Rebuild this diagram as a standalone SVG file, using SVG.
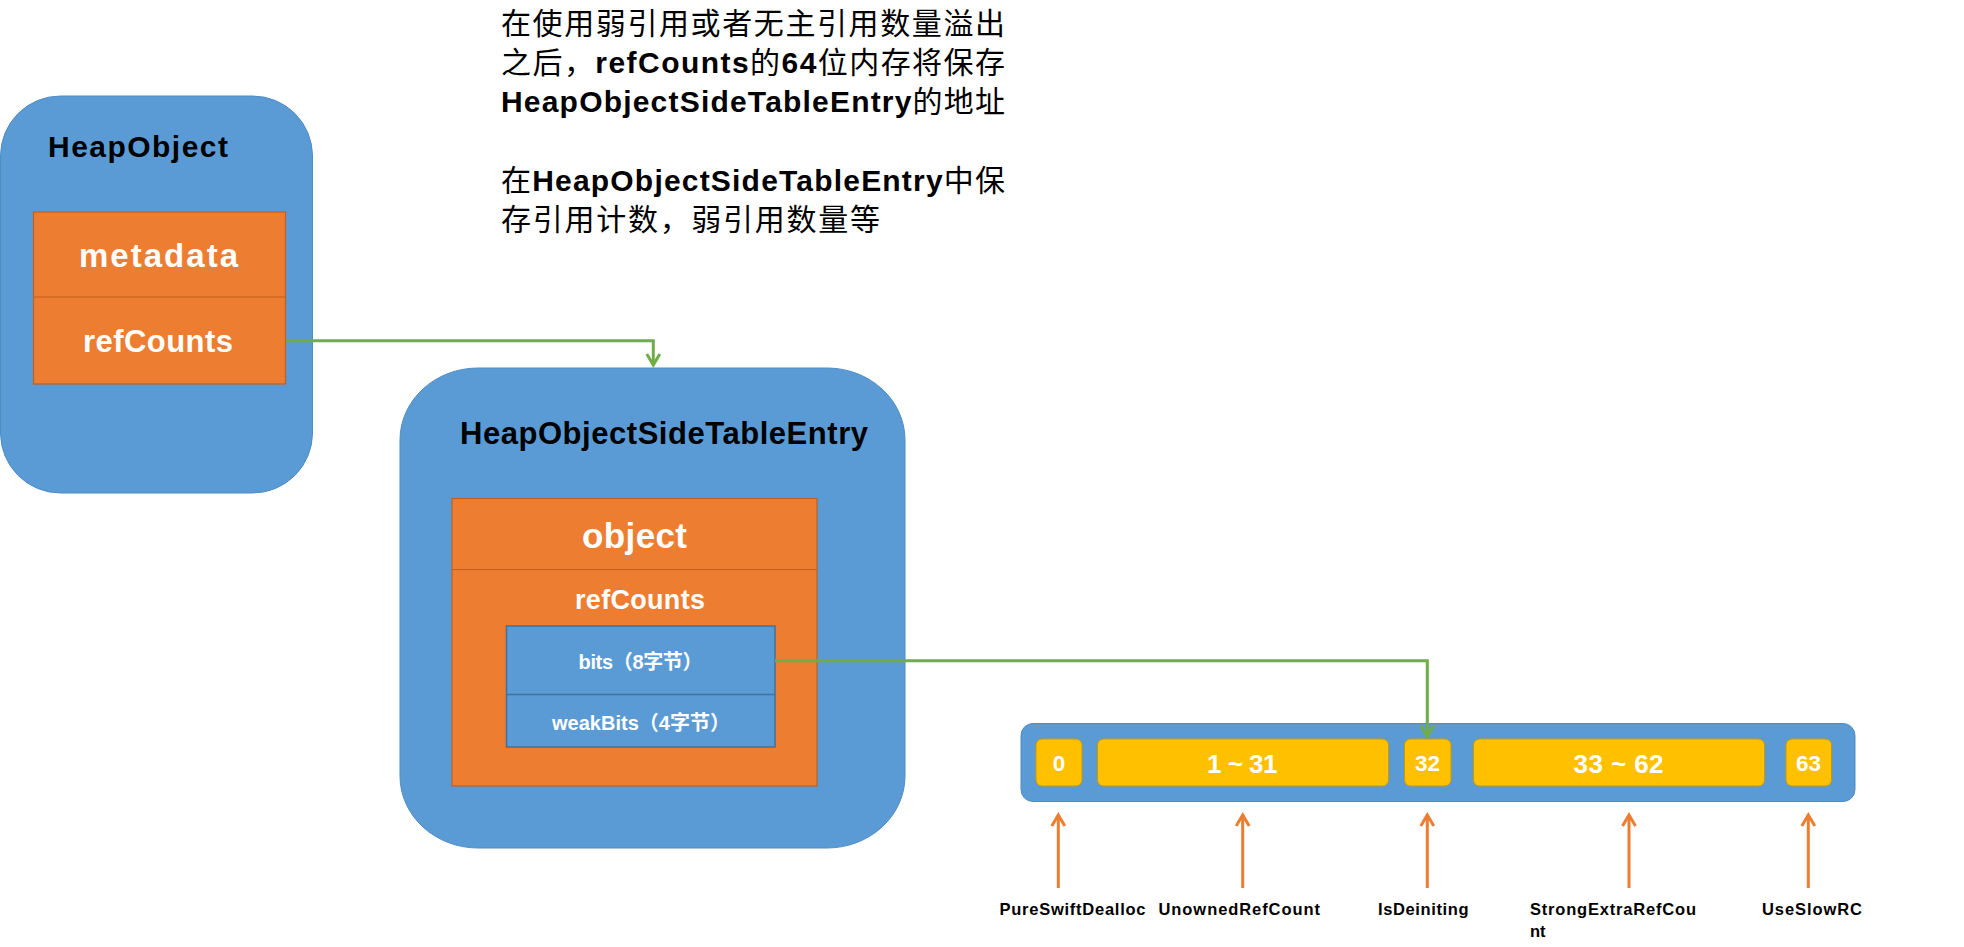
<svg xmlns="http://www.w3.org/2000/svg" width="1964" height="947" viewBox="0 0 1964 947">
<style>
.blue{fill:#5B9BD5;stroke:#4F8CC4;stroke-width:1}
.orange{fill:#ED7D31;stroke:#C0601F;stroke-width:1.2}
.inner{fill:#5B9BD5;stroke:#41719C;stroke-width:1.5}
.cell{fill:#FFC000;stroke:#C99A00;stroke-width:1}
.sep{stroke:#C0601F;stroke-width:1.2;fill:none}
.sepb{stroke:#41719C;stroke-width:1.5;fill:none}
.lat{font-family:"Liberation Sans",Arial,sans-serif;font-weight:bold}
.cjk{font-family:"Noto Sans CJK SC","Liberation Sans",sans-serif;font-weight:normal}
.title{font-family:"Liberation Sans",Arial,sans-serif;font-weight:bold;fill:#000}
.wt{font-family:"Liberation Sans","Noto Sans CJK SC",sans-serif;font-weight:bold;fill:#fff}
.cj{font-family:"Noto Sans CJK SC",sans-serif}
.lbl{font-family:"Liberation Sans",Arial,sans-serif;font-weight:bold;fill:#000;font-size:16.5px}
.para{font-size:30px;fill:#000}
.green{fill:none;stroke:#70AD47;stroke-width:3}
.oline{fill:none;stroke:#ED7D31;stroke-width:3}
</style>
<defs>
<marker id="ag" markerUnits="userSpaceOnUse" markerWidth="16" markerHeight="16" refX="13" refY="8" orient="auto" overflow="visible">
<path d="M2,1.5 L13,8 L2,14.5" fill="none" stroke="#70AD47" stroke-width="3" stroke-linejoin="miter"/>
</marker>
<marker id="ao" markerUnits="userSpaceOnUse" markerWidth="16" markerHeight="16" refX="13" refY="8" orient="auto" overflow="visible">
<path d="M2,1.5 L13,8 L2,14.5" fill="none" stroke="#ED7D31" stroke-width="3" stroke-linejoin="miter"/>
</marker>
</defs>

<g id="note">
<text class="para" x="501" y="34" textLength="504" lengthAdjust="spacing"><tspan class="cjk">在使用弱引用或者无主引用数量溢出</tspan></text>
<text class="para" x="501" y="73" textLength="504" lengthAdjust="spacing"><tspan class="cjk">之后，</tspan><tspan class="lat">refCounts</tspan><tspan class="cjk">的</tspan><tspan class="lat">64</tspan><tspan class="cjk">位内存将保存</tspan></text>
<text class="para" x="501" y="112" textLength="504" lengthAdjust="spacing"><tspan class="lat">HeapObjectSideTableEntry</tspan><tspan class="cjk">的地址</tspan></text>
<text class="para" x="501" y="191" textLength="504" lengthAdjust="spacing"><tspan class="cjk">在</tspan><tspan class="lat">HeapObjectSideTableEntry</tspan><tspan class="cjk">中保</tspan></text>
<text class="para" x="501" y="230" textLength="379" lengthAdjust="spacing"><tspan class="cjk">存引用计数，弱引用数量等</tspan></text>
</g>

<g id="heapobject">
<rect class="blue" x="0.5" y="96" width="312" height="397" rx="60" ry="60"/>
<text class="title" x="48" y="157" font-size="30" textLength="180" lengthAdjust="spacing">HeapObject</text>
<rect class="orange" x="33.5" y="212" width="252" height="172"/>
<line class="sep" x1="33.5" y1="297" x2="285.5" y2="297"/>
<text class="wt" x="79" y="267" font-size="33" textLength="159" lengthAdjust="spacing">metadata</text>
<text class="wt" x="83" y="352" font-size="31" textLength="150" lengthAdjust="spacing">refCounts</text>
</g>

<g id="sidetable">
<rect class="blue" x="400" y="368" width="505" height="480" rx="78" ry="72"/>
<text class="title" x="460" y="444" font-size="31" textLength="408" lengthAdjust="spacing">HeapObjectSideTableEntry</text>
<rect class="orange" x="452" y="498.5" width="365" height="287.5"/>
<line class="sep" x1="452" y1="569.5" x2="817" y2="569.5"/>
<text class="wt" x="582" y="547.5" font-size="35" textLength="105" lengthAdjust="spacing">object</text>
<text class="wt" x="575" y="608.5" font-size="27" textLength="130" lengthAdjust="spacing">refCounts</text>
<rect class="inner" x="506.5" y="626" width="268.5" height="121"/>
<line class="sepb" x1="506.5" y1="694.5" x2="775" y2="694.5"/>
<text class="wt" x="578.5" y="668.5" font-size="20" textLength="124" lengthAdjust="spacing">bits<tspan class="cj">（</tspan>8<tspan class="cj">字节）</tspan></text>
<text class="wt" x="552" y="729.5" font-size="20" textLength="178" lengthAdjust="spacing">weakBits<tspan class="cj">（</tspan>4<tspan class="cj">字节）</tspan></text>
</g>

<g id="bitfield">
<rect class="blue" x="1021" y="723.5" width="834" height="78" rx="12" ry="12"/>
<rect class="cell" x="1036" y="739" width="46" height="47" rx="6"/>
<rect class="cell" x="1097.5" y="739" width="291" height="47" rx="6"/>
<rect class="cell" x="1404.5" y="739" width="46.5" height="47" rx="6"/>
<rect class="cell" x="1473.5" y="739" width="291" height="47" rx="6"/>
<rect class="cell" x="1786" y="739" width="45.5" height="47" rx="6"/>
<text class="wt" x="1059" y="770.5" font-size="22.5" text-anchor="middle">0</text>
<text class="wt" x="1207" y="772.5" font-size="26" textLength="70.5" lengthAdjust="spacing">1 ~ 31</text>
<text class="wt" x="1427.5" y="770.5" font-size="22.5" text-anchor="middle">32</text>
<text class="wt" x="1573.5" y="772.5" font-size="26" textLength="90" lengthAdjust="spacing">33 ~ 62</text>
<text class="wt" x="1808.5" y="770.5" font-size="22.5" text-anchor="middle">63</text>
</g>

<g id="labels">
<text class="lbl" x="999.5" y="915" textLength="146" lengthAdjust="spacing">PureSwiftDealloc</text>
<text class="lbl" x="1158.5" y="915" textLength="161.5" lengthAdjust="spacing">UnownedRefCount</text>
<text class="lbl" x="1378" y="915" textLength="90.5" lengthAdjust="spacing">IsDeiniting</text>
<text class="lbl" x="1530" y="915" textLength="166" lengthAdjust="spacing">StrongExtraRefCou</text>
<text class="lbl" x="1530" y="936.7">nt</text>
<text class="lbl" x="1762" y="915" textLength="100" lengthAdjust="spacing">UseSlowRC</text>
</g>

<g id="connectors">
<path class="green" d="M286,340.7 H653.3 V365" marker-end="url(#ag)"/>
<path class="green" d="M775,660.7 H1427.3 V736.5" marker-end="url(#ag)"/>
<path class="oline" d="M1058.3,888 V815" marker-end="url(#ao)"/>
<path class="oline" d="M1242.7,888 V815" marker-end="url(#ao)"/>
<path class="oline" d="M1427.3,888 V815" marker-end="url(#ao)"/>
<path class="oline" d="M1629,888 V815" marker-end="url(#ao)"/>
<path class="oline" d="M1808.3,888 V815" marker-end="url(#ao)"/>
</g>
</svg>
